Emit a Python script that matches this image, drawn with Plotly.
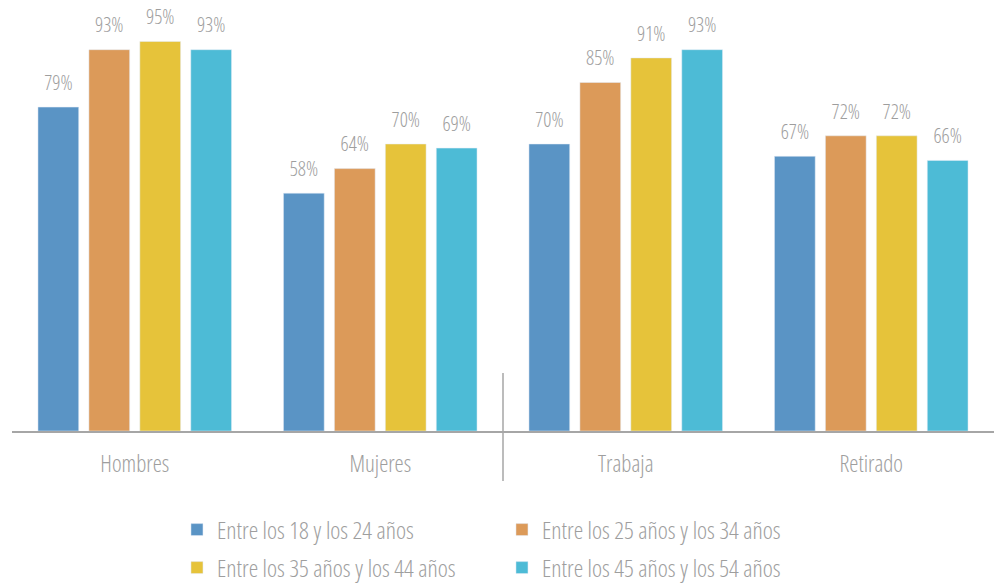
import plotly.graph_objects as go

categories = ["Hombres", "Mujeres", "Trabaja", "Retirado"]
series_names = [
    "Entre los 18 y los 24 años",
    "Entre los 25 años y los 34 años",
    "Entre los 35 años y los 44 años",
    "Entre los 45 años y los 54 años",
]
values_18_24 = [79, 58, 70, 67]
values_25_34 = [93, 64, 85, 72]
values_35_44 = [95, 70, 91, 72]
values_45_54 = [93, 69, 93, 66]
series_values = [values_18_24, values_25_34, values_35_44, values_45_54]
colors = ["#5A94C5", "#DC9A59", "#E6C33A", "#4DBBD6"]
legend_ids = ["legend", "legend", "legend2", "legend2"]

GRAY = "#9E9E9E"
FAMILY = "Open Sans"
TICK_FONT = dict(family=FAMILY, size=23, color=GRAY, weight=300)
LEG_FONT = dict(family=FAMILY, size=24, color=GRAY, weight=300)
LBL_FONT = dict(family=FAMILY, size=20, color=GRAY, weight=300)

fig = go.Figure()
for i, (name, vals, col, lg) in enumerate(zip(series_names, series_values, colors, legend_ids)):
    fig.add_trace(go.Bar(
        x=categories, y=vals, name=name, marker_color=col,
        offsetgroup=str(i), legend=lg, hoverinfo="x+y+name",
    ))
for i, vals in enumerate(series_values):
    fig.add_trace(go.Scatter(
        x=categories, y=vals, mode="markers+text",
        text=[f"{v}%" for v in vals], textposition="top center",
        textfont=LBL_FONT,
        marker=dict(size=18, color="rgba(0,0,0,0)"),
        offsetgroup=str(i), showlegend=False, hoverinfo="skip",
        cliponaxis=False,
    ))

legend_common = dict(
    orientation="h", xanchor="left", yanchor="middle", yref="container",
    font=LEG_FONT, entrywidth=280, bgcolor="rgba(0,0,0,0)",
)

fig.update_layout(
    width=994, height=583,
    margin=dict(l=12, r=0, t=21, b=152),
    barmode="group", bargap=0.17, bargroupgap=0.2,
    scattermode="group", scattergap=0.17,
    plot_bgcolor="white", paper_bgcolor="white",
    font=dict(family=FAMILY, color=GRAY),
    showlegend=True,
    legend=dict(x=0.168, y=1 - 530 / 583, **legend_common),
    legend2=dict(x=0.168, y=1 - 568 / 583, **legend_common),
    xaxis=dict(
        showline=True, linecolor="#A6A6A6", linewidth=2,
        showgrid=False, ticks="", ticklabelstandoff=11,
        tickfont=TICK_FONT,
    ),
    yaxis=dict(range=[0, 100], visible=False, showgrid=False, zeroline=False),
    shapes=[dict(type="line", xref="x", yref="paper", x0=1.5, x1=1.5,
                 y0=0.1415, y1=-0.122, line=dict(color="#A6A6A6", width=1.5))],
)

css = (
    "html, body { margin: 0 !important; padding: 0 !important; overflow: hidden; } "
    "svg text, svg tspan { font-stretch: 75% !important; }"
)
post = (
    "var s=document.createElement('style');s.textContent=%r;document.head.appendChild(s);"
    "var gd=document.getElementById('{plot_id}');"
    "function cond(){gd.querySelectorAll('text').forEach(function(t){t.style.setProperty('font-stretch','75%%','important');});}"
    "cond();gd.on('plotly_afterplot',cond);setTimeout(cond,50);setTimeout(cond,300);"
) % css

fig.write_html("out.html", post_script=post, config={"displayModeBar": False})
